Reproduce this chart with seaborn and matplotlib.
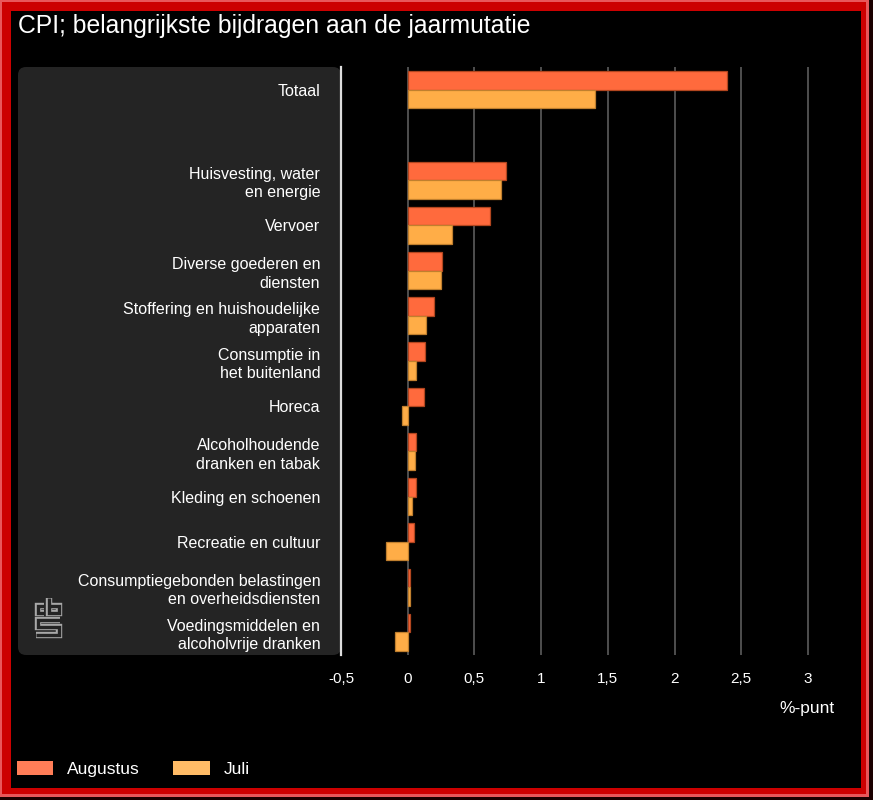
import numpy as np
import pandas as pd
import matplotlib
matplotlib.use("Agg")
import matplotlib.pyplot as plt
import seaborn as sns
from matplotlib.patches import Rectangle, FancyBboxPatch, Patch

# data (gelezen uit de grafiek)
categories = ["Totaal", " ", "Huisvesting, water\nen energie", "Vervoer",
              "Diverse goederen en\ndiensten",
              "Stoffering en huishoudelijke\napparaten",
              "Consumptie in\nhet buitenland", "Horeca",
              "Alcoholhoudende\ndranken en tabak", "Kleding en schoenen",
              "Recreatie en cultuur",
              "Consumptiegebonden belastingen\nen overheidsdiensten",
              "Voedingsmiddelen en\nalcoholvrije dranken"]
augustus = [2.39, None, 0.74, 0.62, 0.26, 0.195, 0.13, 0.12, 0.065, 0.065, 0.05, 0.02, 0.02]
juli = [1.40, None, 0.70, 0.33, 0.25, 0.14, 0.065, -0.04, 0.055, 0.03, -0.16, 0.02, -0.095]
series = ["Augustus", "Juli"]
xticks = [-0.5, 0, 0.5, 1, 1.5, 2, 2.5, 3]
xtick_labels = ["-0,5", "0", "0,5", "1", "1,5", "2", "2,5", "3"]

colors = {"Augustus": "#ff6a3d", "Juli": "#ffad47"}
edges = {"Augustus": "#b2461f", "Juli": "#c07f2e"}
legend_colors = {"Augustus": "#ff7d57", "Juli": "#ffbb66"}

rows = []
for cat, a, j in zip(categories, augustus, juli):
    if a is not None:
        rows.append((cat, "Augustus", a))
    if j is not None:
        rows.append((cat, "Juli", j))
df = pd.DataFrame(rows, columns=["categorie", "maand", "waarde"])

sns.set_theme(style="dark")
plt.rcParams["font.family"] = ["Liberation Sans", "DejaVu Sans"]

W, H = 873, 800
fig = plt.figure(figsize=(W / 100, H / 100), dpi=100)
fig.patch.set_facecolor("#1a0000")

def px_rect(x0, y0, x1, y1, **kw):
    # rechthoek in pixels (y van boven)
    return Rectangle((x0 / W, 1 - y1 / H), (x1 - x0) / W, (y1 - y0) / H,
                     transform=fig.transFigure, **kw)

# rode lijst rondom
fig.patches.append(px_rect(0, 0, 869, 797, facecolor="#e8575a", edgecolor="none", zorder=-5))
fig.patches.append(px_rect(2, 2, 866, 794, facecolor="#cc0000", edgecolor="none", zorder=-4))
fig.patches.append(px_rect(11, 11, 861, 788, facecolor="black", edgecolor="none", zorder=-3))

# grijs paneel achter de labels
panel = FancyBboxPatch((18 / 100, (H - 655) / 100), (341 - 18) / 100, (655 - 67) / 100,
                       boxstyle="round,pad=0,rounding_size=0.08",
                       transform=fig.dpi_scale_trans, facecolor="#242424",
                       edgecolor="none", zorder=-2)
fig.patches.append(panel)

ax = fig.add_axes([341 / W, 1 - 655 / H, (810 - 341) / W, (655 - 67) / H])
ax.set_facecolor("none")

sns.barplot(data=df, y="categorie", x="waarde", hue="maand", order=categories,
            hue_order=series, palette=colors, saturation=1, orient="h", width=0.82,
            errorbar=None, ax=ax, legend=False, zorder=3)

for cont, s in zip(ax.containers, series):
    for bar in cont:
        bar.set_edgecolor(edges[s])
        bar.set_linewidth(0.9)

ax.set_xlim(-0.5, 3.015)
ax.set_xticks(xticks)
ax.set_xticklabels(xtick_labels)
ax.grid(axis="x", color="#555555", linewidth=1.3, zorder=0)
ax.grid(axis="y", visible=False)
ax.set_axisbelow(True)
for side in ["top", "right", "bottom"]:
    ax.spines[side].set_visible(False)
ax.spines["left"].set_color("#dddddd")
ax.spines["left"].set_linewidth(1.6)
ax.spines["left"].set_zorder(4)

ax.tick_params(axis="x", colors="white", labelsize=11, length=0, pad=12.5)
ax.tick_params(axis="y", colors="white", labelsize=11.5, length=0, pad=15)
for lab in ax.get_yticklabels():
    lab.set_multialignment("right")
    lab.set_linespacing(1.3)
ax.set_xlabel("")
ax.set_ylabel("")

fig.text(18 / W, 1 - 26 / H, "CPI; belangrijkste bijdragen aan de jaarmutatie",
         color="white", fontsize=17.85, ha="left", va="center")
fig.text(835 / W, 1 - 709 / H, "%-punt", color="white", fontsize=12.5,
         ha="right", va="center")

# cbs logo
lax = fig.add_axes([30 / W, 1 - 642 / H, 36 / W, 50 / H])
lax.set_xlim(30, 66)
lax.set_ylim(642, 592)
lax.axis("off")
logo_paths = [
    ([44, 37.5, 37.5, 44], [606, 606, 612.5, 612.5]),
    ([48.5, 48.5, 59, 59, 48.5], [598, 612.5, 612.5, 606, 606]),
    ([60, 37.5, 37.5, 59, 59, 36], [620, 620, 627, 627, 634.5, 634.5]),
]
for xs, ys in logo_paths:
    lax.plot(xs, ys, color="#a8a8a8", lw=4.6, solid_capstyle="butt", solid_joinstyle="miter")
    lax.plot(xs, ys, color="#242424", lw=2.4, solid_capstyle="butt", solid_joinstyle="miter")

handles = [Patch(facecolor=legend_colors[s], edgecolor="none", label=s) for s in series]
fig.legend(handles=handles, loc="center left", bbox_to_anchor=(17 / W, 1 - 769 / H),
           ncol=2, frameon=False, fontsize=12.5, labelcolor="white",
           handlelength=2.1, handleheight=0.9, handletextpad=0.8,
           columnspacing=1.9, borderpad=0, borderaxespad=0)

fig.savefig("out.png", dpi=100, facecolor=fig.get_facecolor())
